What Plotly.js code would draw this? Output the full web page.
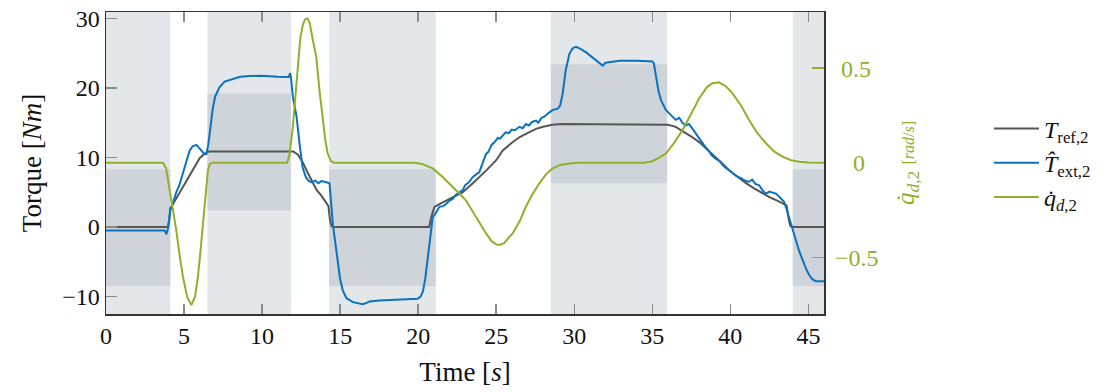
<!DOCTYPE html>
<html>
<head>
<meta charset="utf-8">
<script src="https://cdn.plot.ly/plotly-3.0.1.min.js"></script>
<style>html,body{margin:0;padding:0;background:#fff;} #chart{width:1107px;height:392px;}</style>
</head>
<body>
<div id="chart"></div>
<script>
// ---- data ----
const refTime = [0, 3.97, 4.05, 4.12, 4.5, 5.0, 5.5, 6.0, 6.3, 6.6, 7.0, 12.0, 12.3, 12.6, 12.9, 13.2, 13.5, 13.8, 14.1, 14.25, 14.35, 14.45, 14.6,
  20.7, 20.85, 21.04, 21.36, 21.8, 22.2, 22.86, 23.5, 24.0, 24.35, 25.0, 25.42, 26.0, 26.48, 27.0, 27.55, 28.0, 28.6, 29.2,
  35.6, 36.0, 36.5, 37.0, 37.5, 38.0, 38.5, 39.0, 39.5, 40.0, 40.5, 41.0, 41.5, 42.0, 42.5, 43.0, 43.4, 43.6, 43.75, 43.85, 44.0, 46];
const refTorque = [0, 0, 1.0, 2.7, 4.1, 6.0, 8.0, 9.9, 10.5, 10.85, 10.85, 10.85, 10.4, 9.3, 7.9, 6.6, 5.3, 4.5, 3.6, 3.0, 1.0, 0.1, 0,
  0, 1.5, 2.9, 3.3, 3.8, 4.3, 5.0, 6.3, 7.3, 8.1, 9.6, 11.0, 12.1, 12.9, 13.5, 14.1, 14.4, 14.7, 14.8,
  14.8, 14.7, 14.4, 13.75, 13.0, 12.2, 11.2, 10.2, 9.1, 8.0, 7.1, 6.3, 5.6, 4.9, 4.3, 3.8, 3.4, 3.1, 1.0, 0.1, 0, 0];

const extTime = [0, 3.75, 3.82, 3.87, 3.97, 4.12, 4.29, 4.5, 4.7, 4.93, 5.1, 5.36, 5.55, 5.79, 5.95, 6.1, 6.3, 6.43, 6.55, 6.64, 6.75, 6.85, 7.0, 7.28, 7.6, 8.13, 8.6, 9.2, 10.0, 11.0, 11.7, 11.8, 11.85, 11.97, 12.2, 12.4, 12.6, 12.8, 13.0,
  13.2, 13.4, 13.6, 13.8, 14.0, 14.2, 14.32, 14.53, 14.7, 14.85, 15.0, 15.17, 15.4, 15.81, 16.2, 16.45, 16.7, 16.88, 17.5, 18.8, 19.97, 20.15, 20.3, 20.45, 20.6, 20.75, 20.93,
  21.15, 21.36, 21.6, 21.79, 22.0, 22.2, 22.4, 22.64, 22.86, 23.0, 23.28, 23.5, 23.7, 23.92, 24.1, 24.35, 24.5, 24.7, 24.9, 25.1, 25.25, 25.42, 25.6, 25.8, 26.0, 26.2, 26.48, 26.7, 26.9, 27.1, 27.3, 27.55, 27.7, 27.9, 28.1, 28.3, 28.6, 28.94,
  29.1, 29.26, 29.45, 29.69, 29.9, 30.11, 30.4, 30.76, 31.3, 31.82, 32.0, 32.25, 32.9, 34.0, 35.0, 35.1, 35.24, 35.4, 35.56, 35.88, 36.1, 36.3, 36.5, 36.73, 36.95, 37.16, 37.35, 37.58, 37.8, 38.0, 38.3, 38.6, 38.8, 39.08, 39.3, 39.6, 39.9,
  40.14, 40.4, 40.7, 41.0, 41.2, 41.4, 41.6, 41.85, 42.05, 42.28, 42.5, 42.7, 42.92, 43.2, 43.45, 43.6, 43.77, 44.0, 44.2, 44.4, 44.62, 44.85, 45.05, 45.25, 45.48, 46];
const extTorque = [-0.5, -0.5, -0.8, -1.05, -0.2, 2.4, 3.4, 5.0, 6.0, 7.7, 9.3, 11.0, 11.6, 11.8, 11.4, 11.0, 10.5, 10.5, 11.8, 13.4, 15.5, 17.2, 18.8, 20.1, 20.9, 21.3, 21.6, 21.7, 21.75, 21.6, 21.55, 22.1, 21.5, 18.7, 16.0, 12.0, 8.5, 7.2, 6.6,
  6.4, 6.7, 6.3, 6.6, 6.5, 6.4, 6.3, 0.5, -2.5, -5.3, -7.5, -9.1, -10.2, -10.8, -11.0, -11.1, -10.9, -10.7, -10.55, -10.4, -10.3, -10.0, -9.3, -7.5, -4.8, -1.4, 1.4,
  2.1, 2.9, 3.0, 3.3, 3.8, 4.0, 4.6, 5.0, 5.3, 6.0, 6.5, 7.2, 7.5, 7.9, 9.0, 10.5, 10.8, 11.8, 12.2, 12.8, 12.7, 13.2, 13.6, 13.5, 14.0, 13.9, 14.4, 14.2, 14.8, 14.6, 15.1, 15.3, 15.0, 15.7, 15.9, 16.3, 16.8, 17.0,
  17.5, 19.2, 22.5, 24.9, 25.7, 25.9, 25.6, 25.1, 24.2, 23.2, 23.6, 23.7, 23.9, 23.9, 23.8, 23.5, 21.6, 19.5, 18.2, 16.8, 16.3, 15.8, 15.4, 15.7, 14.9, 14.6, 14.8, 14.1, 13.4, 12.7, 11.8, 11.0, 10.3, 9.8, 9.5, 8.7, 8.2,
  7.7, 7.3, 7.0, 6.6, 6.5, 6.8, 6.2, 6.0, 5.3, 4.8, 5.1, 5.0, 4.8, 4.2, 3.6, 2.6, 1.4, -0.2, -1.9, -3.4, -4.8, -6.0, -6.9, -7.5, -7.8, -7.8];

const velTime = [0, 3.65, 3.85, 4.08, 4.3, 4.5, 4.7, 4.93, 5.2, 5.47, 5.7, 5.89, 6.05, 6.21, 6.38, 6.53, 6.65, 6.8,
  11.6, 11.75, 11.97, 12.15, 12.29, 12.45, 12.61, 12.75, 12.9, 13.05, 13.25, 13.47, 13.68, 13.9, 14.05, 14.2, 14.4, 14.6,
  19.8, 20.3, 20.93, 21.5, 22.0, 22.6, 23.07, 23.5, 24.0, 24.35, 24.7, 25.0, 25.2, 25.5, 26.05, 26.5, 26.9, 27.3, 27.76, 28.2, 28.62, 29.1, 29.69, 30.2,
  34.5, 35.0, 35.5, 35.88, 36.4, 36.94, 37.5, 38.0, 38.5, 38.86, 39.26, 39.7, 40.14, 40.7, 41.2, 41.7, 42.28, 42.8, 43.34, 43.9, 44.41, 45.0, 46];
const velValue = [0, 0, -0.03, -0.144, -0.26, -0.356, -0.48, -0.603, -0.71, -0.753, -0.71, -0.603, -0.47, -0.339, -0.17, -0.039, -0.008, 0,
  0, 0.04, 0.19, 0.37, 0.543, 0.66, 0.729, 0.758, 0.764, 0.74, 0.649, 0.561, 0.38, 0.226, 0.12, 0.05, 0.01, 0,
  0, -0.008, -0.03, -0.07, -0.109, -0.16, -0.2, -0.26, -0.33, -0.374, -0.415, -0.432, -0.435, -0.425, -0.374, -0.31, -0.233, -0.17, -0.109, -0.06, -0.03, -0.012, -0.004, 0,
  0, 0.008, 0.03, 0.05, 0.105, 0.173, 0.26, 0.34, 0.4, 0.42, 0.425, 0.405, 0.367, 0.3, 0.226, 0.16, 0.103, 0.06, 0.032, 0.013, 0.005, 0.001, 0];

// shaded phases (time intervals) and inner bands (torque intervals)
const phaseStart = [0, 6.5, 14.3, 28.5, 44.0];
const phaseEnd   = [4.12, 11.85, 21.12, 35.95, 46];
const bandLow    = [-8.5, 2.4, -8.5, 6.3, -8.5];
const bandHigh   = [8.3, 19.2, 8.3, 23.4, 8.3];

const xTicks = [0, 5, 10, 15, 20, 25, 30, 35, 40, 45];
const yTicks = [-10, 0, 10, 20, 30];
const y2Ticks = [-0.5, 0, 0.5];
const y2TickText = ['\u22120.5', '\u00a0\u00a0\u00a00', '\u00a00.5'];

// ---- styles ----
const FONT = 'Liberation Serif, Times New Roman, serif';
const GRAY = '#555555', BLUE = '#0a72bf', GREEN = '#8fb02a';
const LIGHT = '#e4e7ea', DARK = '#cfd4da';

const shapes = [];
for (let i = 0; i < phaseStart.length; i++) {
  shapes.push({type: 'rect', layer: 'below', xref: 'x', yref: 'paper', x0: phaseStart[i], x1: phaseEnd[i], y0: 0, y1: 1,
    fillcolor: LIGHT, line: {width: 0}});
  shapes.push({type: 'rect', layer: 'below', xref: 'x', yref: 'y', x0: phaseStart[i], x1: phaseEnd[i], y0: bandLow[i], y1: bandHigh[i],
    fillcolor: DARK, line: {width: 0}});
}

const traces = [
  {x: refTime, y: refTorque, type: 'scatter', mode: 'lines', name: '<i>T</i><sub>ref,2</sub>',
   line: {color: GRAY, width: 2}},
  {x: extTime, y: extTorque, type: 'scatter', mode: 'lines', name: '<i>T\u0302</i><sub>ext,2</sub>',
   line: {color: BLUE, width: 2}},
  {x: velTime, y: velValue, type: 'scatter', mode: 'lines', name: '<i>q\u0307</i><sub><i>d</i>,2</sub>',
   yaxis: 'y2', line: {color: GREEN, width: 2}}
];

const layout = {
  width: 1107, height: 392,
  margin: {l: 106, r: 282, t: 12, b: 78},
  paper_bgcolor: '#ffffff', plot_bgcolor: 'rgba(0,0,0,0)',
  font: {family: FONT, size: 24, color: '#111'},
  showlegend: true,
  legend: {x: 1.228, xanchor: 'left', y: 0.5, yanchor: 'middle', font: {family: FONT, size: 24, color: '#111'},
    bgcolor: 'rgba(0,0,0,0)', itemwidth: 45, tracegroupgap: 0},
  xaxis: {range: [0, 46], tickvals: xTicks, ticks: 'inside', ticklen: 10, tickwidth: 1.5, tickcolor: '#8a8a8a',
    showline: true, linecolor: '#333', linewidth: 1.5, mirror: 'ticks', showgrid: false, zeroline: false,
    tickfont: {family: FONT, size: 24, color: '#111'},
    title: {text: 'Time [<i>s</i>]', font: {family: FONT, size: 27, color: '#111'}, standoff: 14}},
  yaxis: {range: [-12.5, 30.9], tickvals: yTicks, ticks: 'inside', ticklen: 11, tickwidth: 1.5, tickcolor: '#8a8a8a',
    showline: true, linecolor: '#333', linewidth: 1.5, mirror: true, showgrid: false, zeroline: false,
    tickfont: {family: FONT, size: 24, color: '#111'},
    title: {text: 'Torque [<i>Nm</i>]', font: {family: FONT, size: 27, color: '#111'}, standoff: 12}},
  yaxis2: {overlaying: 'y', side: 'right', range: [-0.8, 0.797], tickvals: y2Ticks, ticktext: y2TickText,
    ticks: 'inside', ticklen: 12, tickwidth: 1.5, tickcolor: GREEN, showline: false, showgrid: false, zeroline: false,
    ticklabelstandoff: 10,
    tickfont: {family: FONT, size: 24, color: GREEN},
    title: {text: '<i>q\u0307</i><sub><i>d</i>,2</sub> <span style="font-size:16px">[<i>rad</i>/<i>s</i>]</span>',
      font: {family: FONT, size: 25, color: GREEN}, standoff: 18}},
  shapes: shapes
};

Plotly.newPlot('chart', traces, layout, {displayModeBar: false, staticPlot: true});
</script>
</body>
</html>
